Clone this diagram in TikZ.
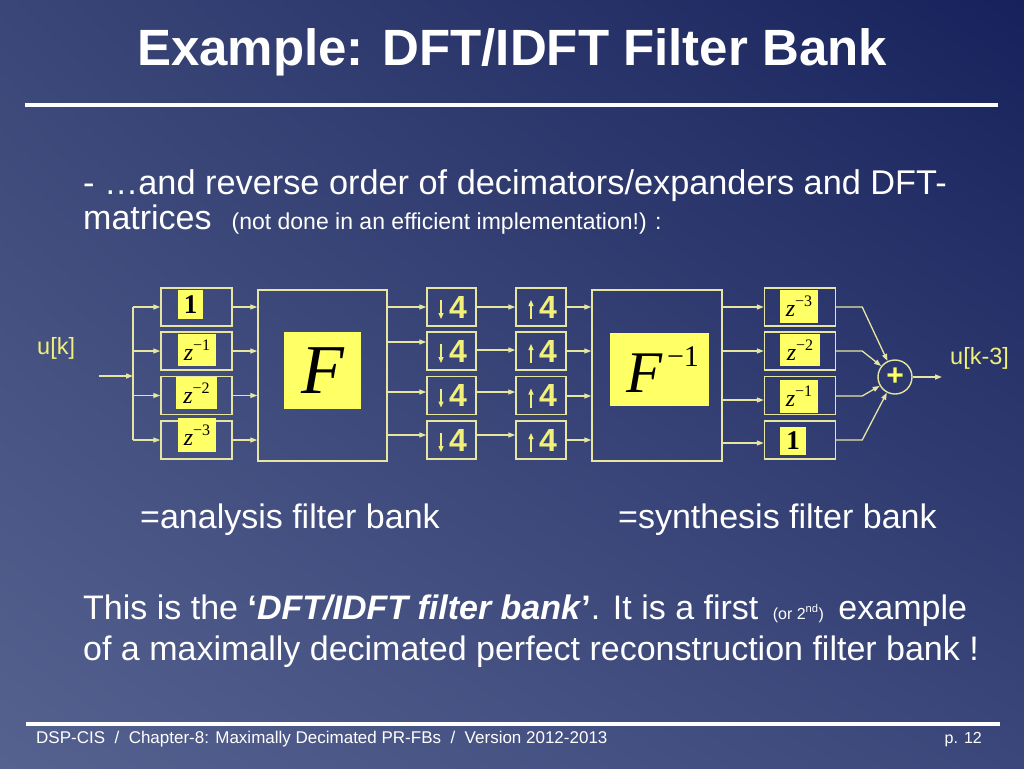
\documentclass[tikz,border=0pt]{standalone}
\usepackage{fontspec}
\setmainfont{Liberation Sans}
\newfontfamily\timesf{Liberation Serif}
\usetikzlibrary{arrows.meta,calc,shadings}
\definecolor{bgTL}{HTML}{3A4677}
\definecolor{bgTR}{HTML}{17225C}
\definecolor{bgBL}{HTML}{55618F}
\definecolor{bgBR}{HTML}{3B477A}
\definecolor{lnc}{HTML}{E6E6A0}
\definecolor{yb}{HTML}{FFFF66}
\definecolor{yt}{HTML}{F0F07A}
\newcommand\fsz[1]{\fontsize{#1}{#1}\selectfont}
\newcommand\zz[1]{{\timesf\itshape\fsz{24}z}\raisebox{10pt}{\timesf\fsz{16}−#1}}
\tikzset{
 blk/.style={draw=lnc, line width=1.4pt, inner sep=0pt},
 dly/.style={blk, minimum width=71pt, minimum height=38pt},
 rsm/.style={blk, minimum width=49pt, minimum height=38pt, text=yt, font=\bfseries\fsz{32}},
 patch/.style={fill=yb, inner sep=0pt, text=black},
 ar/.style={draw=lnc, line width=1.3pt, -{Triangle[length=7pt,width=5pt]}},
 wire/.style={draw=lnc, line width=1.3pt},
 sar/.style={draw=yt, line width=1.2pt, -{Triangle[length=6pt,width=5pt]}},
 txt/.style={text=white, inner sep=0pt, anchor=base west},
}
\begin{document}
\begin{tikzpicture}[x=1pt,y=-1pt]
\useasboundingbox (0,0) rectangle (1024,768);
\shade[upper left=bgTL, upper right=bgTR, lower left=bgBL, lower right=bgBR] (0,0) rectangle (1024,768);

% title and rules
\node[txt, font=\bfseries\fsz{51}, anchor=base] (title) at (512,65) {Example: DFT/IDFT Filter Bank};
\draw[white, line width=4pt] (25,105) -- (998,105);
\draw[white, line width=3.5pt] (26,724) -- (1000,724);

% texts
\node[txt, font=\fsz{34.3}] (b1) at (83,194) {- …and reverse order of decimators/expanders and DFT-};
\node[txt, font=\fsz{34}] (b2) at (83,229) {matrices\hspace{20pt}{\fsz{23}(not done in an efficient implementation!) :}};
\node[txt, font=\fsz{34}] (an) at (140,528) {=analysis filter bank};
\node[txt, font=\fsz{34}] (sy) at (618,528) {=synthesis filter bank};
\node[txt, font=\fsz{34}] (p1) at (83,619) {This is the \textbf{`\textit{DFT/IDFT filter bank}’}. It is a first\hspace{5pt} {\fsz{16}(or 2\textsuperscript{nd})}\hspace{5pt} example};
\node[txt, font=\fsz{34}] (p2) at (83,660) {of a maximally decimated perfect reconstruction filter bank !};
\node[txt, font=\fsz{17}] (ft) at (36,743) {DSP-CIS \ / \ Chapter-8: Maximally Decimated PR-FBs \ / \ Version 2012-2013};
\node[txt, font=\fsz{16}, anchor=base east] (pg) at (982,743) {p. 12};

% analysis delays
\node[dly] (a1) at (196.5,307) {};
\node[dly] (a2) at (196.5,351) {};
\node[dly] (a3) at (196.5,395.5) {};
\node[dly] (a4) at (196.5,440) {};
\node[patch, minimum width=25pt, minimum height=29pt] (pa1) at (190.5,304.5) {\timesf\bfseries\fsz{27}1};
\node[patch, minimum width=38pt, minimum height=32pt] (pa2) at (197,350) {\zz{1}};
\node[patch, minimum width=41pt, minimum height=32pt] (pa3) at (196.5,393) {\zz{2}};
\node[patch, minimum width=38pt, minimum height=34pt] (pa4) at (197,435) {\zz{3}};

% F
\node[blk, minimum width=129pt, minimum height=171pt] (F) at (322.5,375.5) {};
\node[patch, minimum width=77pt, minimum height=77pt] (pF) at (322.5,370.5) {\timesf\itshape\fsz{70}\raisebox{-3pt}{F}};

% decimators / expanders
\foreach \i/\y in {1/307,2/351,3/395.5,4/440}{
  \node[rsm] (d\i) at (451.5,\y) {\hspace{13pt}4};
  \node[rsm, minimum width=50pt] (u\i) at (541,\y) {\hspace{14pt}4};
  \draw[sar] ($(d\i.center)+(-10.5,-7)$) -- ($(d\i.center)+(-10.5,12)$);
  \draw[sar] ($(u\i.center)+(-10,12)$) -- ($(u\i.center)+(-10,-7)$);
}

% F inverse
\node[blk, minimum width=130pt, minimum height=171pt] (G) at (657,375.5) {};
\node[patch, minimum width=99pt, minimum height=73pt] (pG) at (659.5,369.5) {\timesf\fsz{59}\hspace{6pt}{\itshape F}\raisebox{26pt}{\fsz{30}\,−1}};

% synthesis delays
\node[dly] (s1) at (800,307) {};
\node[dly] (s2) at (800,351) {};
\node[dly] (s3) at (800,395.5) {};
\node[dly] (s4) at (800,440) {};
\node[patch, minimum width=38pt, minimum height=33pt] (ps1) at (799,306.5) {\zz{3}};
\node[patch, minimum width=40pt, minimum height=32pt] (ps2) at (800,350) {\zz{2}};
\node[patch, minimum width=38pt, minimum height=33pt] (ps3) at (799,396.5) {\zz{1}};
\node[patch, minimum width=26pt, minimum height=28pt] (ps4) at (793,441) {\timesf\bfseries\fsz{27}1};

% adder
\node[circle, draw=lnc, line width=1.4pt, minimum size=34pt, inner sep=0pt, text=yb, font=\bfseries\fsz{30}] (add) at (895,377) {+};

% labels
\node[txt, text=yt, font=\fsz{23.5}] (uk) at (37,354) {u[k]};
\node[txt, text=yt, font=\fsz{23.5}] (uk3) at (950,364) {u[k-3]};

% wiring
\coordinate (in) at (99,376);
\coordinate (bus) at (133,376);
\coordinate (out) at (942,377);
\draw[ar] (in) -- (bus);
\draw[wire] (a1.west -| bus) -- (a4.west -| bus);
\foreach \i in {1,2,3,4}{
  \draw[ar] (a\i.west -| bus) -- (a\i.west);
  \draw[ar] (a\i.east) -- (a\i.east -| F.west);
}
\foreach \i/\y in {1/307,2/342,3/392,4/435}{
  \draw[ar] (F.east |- 0,\y) -- (d\i.west |- 0,\y);
}
\foreach \i/\y in {1/307,2/350,3/392,4/435}{
  \draw[ar] (d\i.east |- 0,\y) -- (u\i.west |- 0,\y);
}
\foreach \i/\y in {1/307,2/351,3/396,4/440}{
  \draw[ar] (u\i.east |- 0,\y) -- (G.west |- 0,\y);
}
\foreach \i/\y in {1/307,2/351,3/400,4/443}{
  \draw[ar] (G.east |- 0,\y) -- (s\i.west |- 0,\y);
}
\foreach \i/\y in {1/307,2/351,3/396,4/440}{
  \draw[ar] (s\i.east |- 0,\y) -- ++(26,0) -- (add);
}
\draw[ar] (add) -- (out);
\end{tikzpicture}
\end{document}
